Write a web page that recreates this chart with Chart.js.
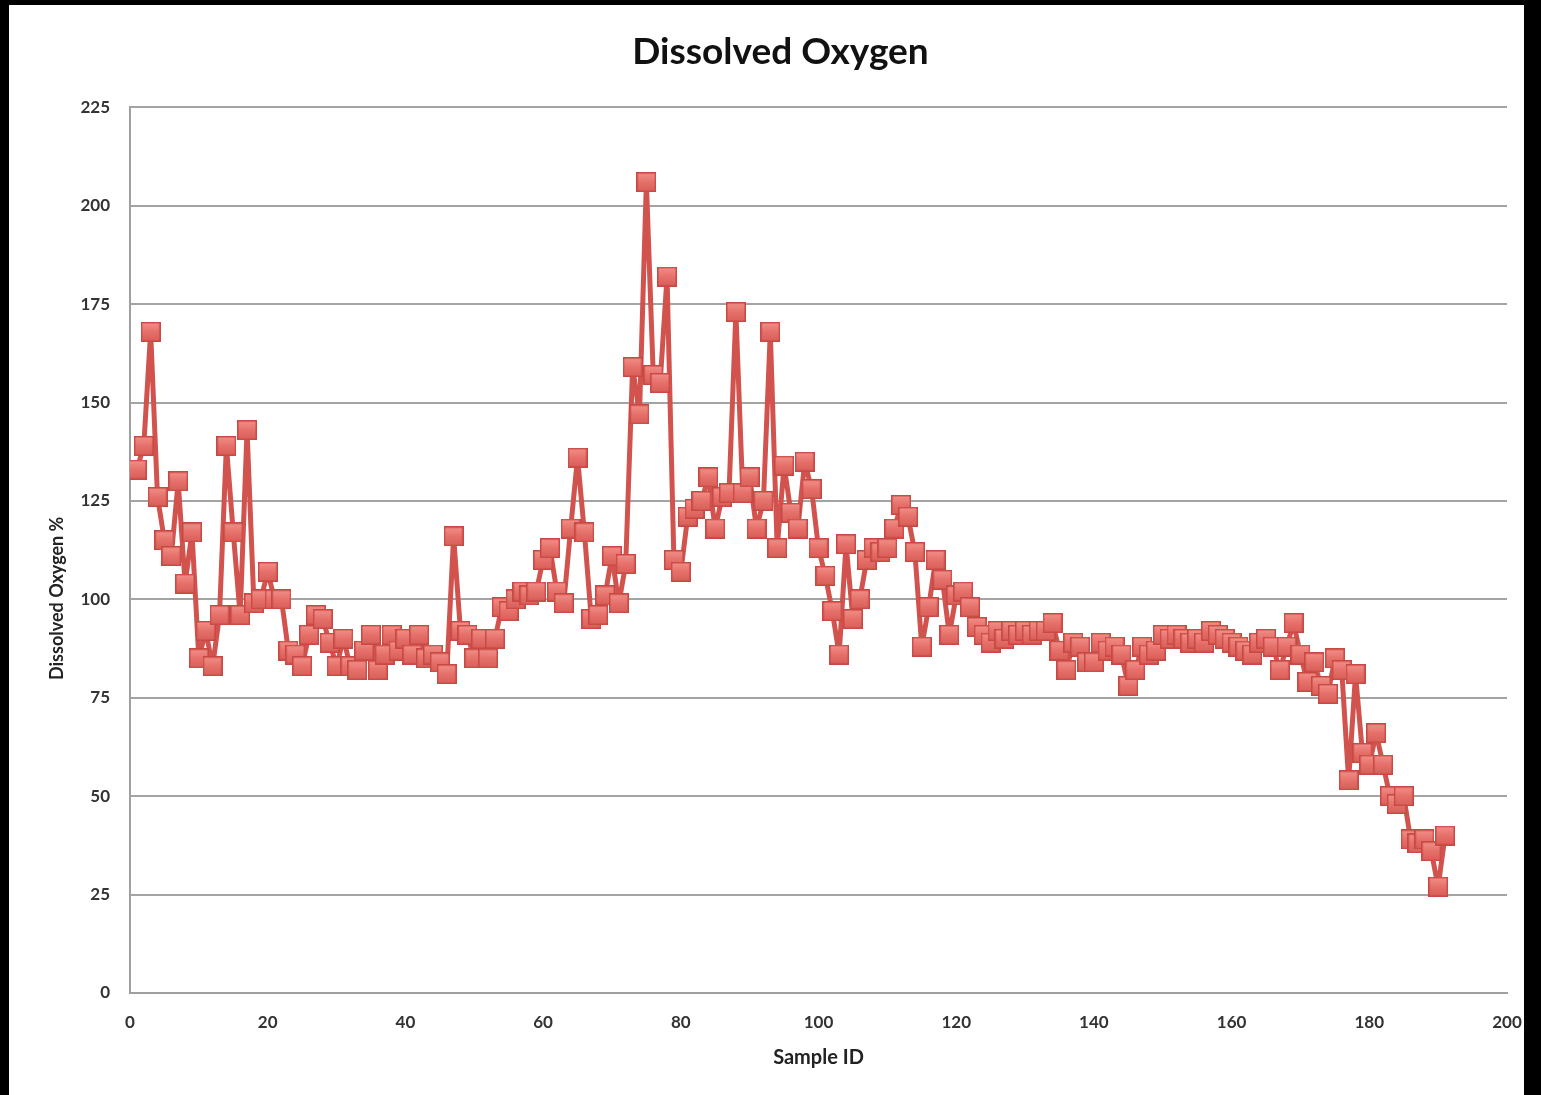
<!DOCTYPE html>
<html>
<head>
<meta charset="utf-8">
<script src="https://cdn.jsdelivr.net/npm/chart.js@4/dist/chart.umd.min.js"></script>
<style>
  html, body { margin: 0; padding: 0; background: #000; }
  .panel { position: absolute; left: 9px; top: 5px; width: 1515px; height: 1090px; background: #fff; }
  canvas { display: block; }
</style>
</head>
<body>
<div class="panel"><canvas id="chart" width="1515" height="1090"></canvas></div>
<script>
const sampleIds = [];
for (let i = 1; i <= 191; i++) sampleIds.push(i);

const dissolvedO2 = [
  133, 139, 168, 126, 115, 111, 130, 104, 117, 85,
  92, 83, 96, 139, 117, 96, 143, 99, 100, 107,
  100, 100, 87, 86, 83, 91, 96, 95, 89, 83,
  90, 83, 82, 87, 91, 82, 86, 91, 87, 90,
  86, 91, 85, 86, 84, 81, 116, 92, 91, 85,
  90, 85, 90, 98, 97, 100, 102, 101, 102, 110,
  113, 102, 99, 118, 136, 117, 95, 96, 101, 111,
  99, 109, 159, 147, 206, 157, 155, 182, 110, 107,
  121, 123, 125, 131, 118, 126, 127, 173, 127, 131,
  118, 125, 168, 113, 134, 122, 118, 135, 128, 113,
  106, 97, 86, 114, 95, 100, 110, 113, 112, 113,
  118, 124, 121, 112, 88, 98, 110, 105, 91, 101,
  102, 98, 93, 91, 89, 92, 90, 92, 91, 92,
  91, 92, 92, 94, 87, 82, 89, 88, 84, 84,
  89, 87, 88, 86, 78, 82, 88, 86, 87, 91,
  90, 91, 90, 89, 90, 89, 92, 91, 90, 89,
  88, 87, 86, 89, 90, 88, 82, 88, 94, 86,
  79, 84, 78, 76, 85, 82, 54, 81, 61, 58,
  66, 58, 50, 48, 50, 39, 38, 39, 36, 27,
  40
];

const xTicks = [0, 20, 40, 60, 80, 100, 120, 140, 160, 180, 200];
const yTicks = [0, 25, 50, 75, 100, 125, 150, 175, 200, 225];

// square marker with a soft vertical shade
function makeMarker(size) {
  const c = document.createElement("canvas");
  c.width = size;
  c.height = size;
  const g = c.getContext("2d");
  const grad = g.createLinearGradient(0, 0, 0, size);
  grad.addColorStop(0, "#f3928c");
  grad.addColorStop(0.5, "#e6706a");
  grad.addColorStop(1, "#d85e58");
  g.fillStyle = grad;
  g.fillRect(0, 0, size, size);
  g.strokeStyle = "#c94843";
  g.lineWidth = 1.5;
  g.strokeRect(0.75, 0.75, size - 1.5, size - 1.5);
  return c;
}

const marker = makeMarker(20);
const points = sampleIds.map((id, i) => ({ x: id, y: dissolvedO2[i] }));

const tickFont = { family: "Lato", size: 17, weight: "bold" };

const config = {
  type: "line",
  data: {
    datasets: [
      {
        label: "Dissolved Oxygen",
        data: points,
        borderColor: "#d2524d",
        borderWidth: 5,
        borderJoinStyle: "round",
        pointStyle: marker,
        pointRadius: 10,
        tension: 0,
      },
    ],
  },
  options: {
    responsive: false,
    animation: false,
    layout: { padding: { left: 28, right: 0, top: 0, bottom: 0 } },
    plugins: {
      legend: { display: false },
      tooltip: { enabled: false },
      title: {
        display: true,
        text: "Dissolved Oxygen",
        color: "#111",
        font: { family: "Lato", size: 37, weight: "bold" },
        padding: { top: 25, bottom: 33 },
      },
    },
    scales: {
      x: {
        type: "linear",
        min: 0,
        max: 200,
        afterBuildTicks: (s) => { s.ticks = xTicks.map((v) => ({ value: v })); },
        afterFit: (s) => {
          s.height = 102;
          s.paddingLeft = 0;
          s.paddingRight = 17;
        },
        grid: { display: false, drawTicks: false },
        border: { display: true, color: "#a0a0a0", width: 2 },
        ticks: { color: "#333", font: tickFont, padding: 19, maxRotation: 0 },
        title: {
          display: true,
          text: "Sample ID",
          color: "#222",
          font: { family: "Lato", size: 20, weight: "bold" },
          padding: { top: 25, bottom: 25 },
        },
      },
      y: {
        min: 0,
        max: 225,
        afterBuildTicks: (s) => { s.ticks = yTicks.map((v) => ({ value: v })); },
        afterFit: (s) => { s.width = 93; },
        grid: { color: "#a3a3a3", lineWidth: 2, drawTicks: false },
        border: { display: true, color: "#a0a0a0", width: 2 },
        ticks: { color: "#333", font: tickFont, padding: 20 },
        title: {
          display: true,
          text: "Dissolved Oxygen %" + " ".repeat(22),
          color: "#222",
          font: { family: "Lato", size: 18, weight: "bold" },
          padding: { top: 9, bottom: 9 },
        },
      },
    },
  },
};

new Chart(document.getElementById("chart"), config);
</script>
</body>
</html>
